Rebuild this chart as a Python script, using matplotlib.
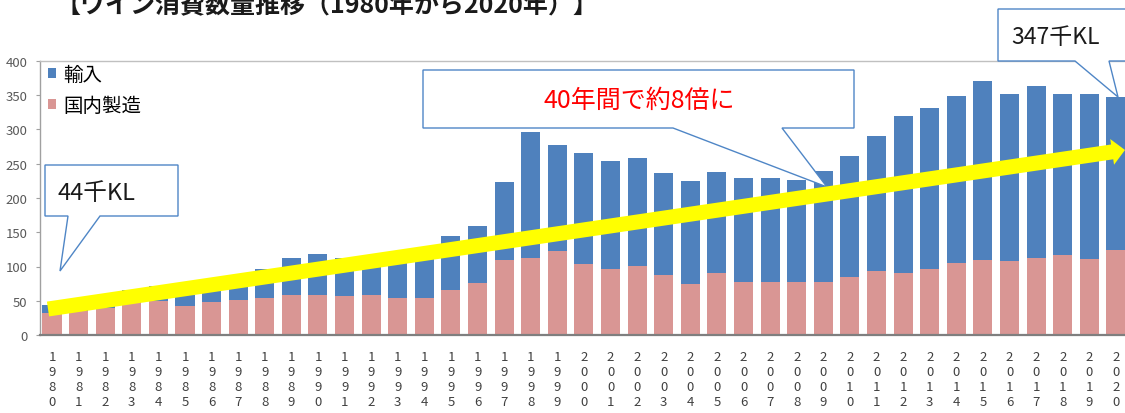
import matplotlib
matplotlib.use("Agg")
import matplotlib.pyplot as plt
from matplotlib.patches import Polygon
import numpy as np

plt.rcParams['font.family'] = ['Noto Sans CJK JP', 'DejaVu Sans']

# ---- data (千KL) ----
years = list(range(1980, 2021))
domestic = [32, 35, 40, 46, 50, 42, 48, 51, 54, 59,
            59, 57, 59, 54, 54, 66, 76, 109, 112, 122,
            104, 96, 101, 88, 74, 91, 78, 77, 78, 78,
            84, 93, 91, 97, 105, 109, 108, 113, 117, 111,
            124]
imports = [12, 12, 18, 19, 21, 16, 17, 25, 42, 54,
           59, 55, 48, 54, 64, 78, 83, 115, 185, 156,
           161, 158, 157, 149, 151, 147, 151, 152, 148, 162,
           178, 197, 229, 235, 244, 262, 244, 251, 235, 241,
           223]
label_import = '輸入'
label_domestic = '国内製造'
title = '【ワイン消費数量推移（1980年から2020年）】'
note_start = '44千KL'
note_end = '347千KL'
note_growth = '40年間で約8倍に'
yticks = [0, 50, 100, 150, 200, 250, 300, 350, 400]

W, H = 1125, 414
fig = plt.figure(figsize=(W / 100, H / 100), dpi=100)


def fx(x):
    return x / W


def fy(y):
    return 1 - y / H


ax = fig.add_axes([fx(40), fy(336), 1 - fx(40), fy(62) - fy(336)])

x = np.arange(len(years))
bw = 0.715
ax.bar(x, domestic, width=bw, color='#d99694', label=label_domestic, zorder=2)
ax.bar(x, imports, width=bw, bottom=domestic, color='#4f81bd', label=label_import, zorder=2)

ax.set_xlim(-0.451, 40.34)
ax.set_ylim(0, 400)
ax.set_yticks(yticks)
ax.set_yticklabels([str(v) for v in yticks])
ax.set_xticks(x)
ax.set_xticklabels(['\n'.join(str(y)) for y in years], linespacing=1.2, va='top')

ax.tick_params(axis='y', direction='out', length=3, width=0.8, color='#a0a0a0',
               labelsize=9.5, labelcolor='#595959', pad=6)
ax.tick_params(axis='x', length=0, labelsize=9.5, labelcolor='#404040', pad=11)

ax.spines['right'].set_visible(False)
ax.spines['top'].set_color('#c0c0c0')
ax.spines['top'].set_linewidth(1.0)
ax.spines['left'].set_color('#a0a0a0')
ax.spines['left'].set_linewidth(1.0)
ax.spines['bottom'].set_color('#7f7f7f')
ax.spines['bottom'].set_linewidth(1.6)

h, l = ax.get_legend_handles_labels()
leg = ax.legend(h[::-1], l[::-1], loc='upper left', bbox_to_anchor=(0.005, 1.0),
                frameon=False, fontsize=14, handlelength=0.4, handleheight=0.4,
                handletextpad=0.35, labelspacing=0.5, borderaxespad=0.0,
                borderpad=0.15)

# title (cropped at the top in the reference)
fig.text(fx(55), fy(13), title, fontsize=18, fontweight='bold', ha='left',
         va='baseline', color='#1a1a1a')


def callout(pts, z=5):
    poly = Polygon([(fx(a), fy(b)) for a, b in pts], closed=True,
                   transform=fig.transFigure, facecolor='white',
                   edgecolor='#4f86c6', linewidth=1.0, zorder=z)
    fig.add_artist(poly)


# 44千KL callout
callout([(45, 166), (178, 166), (178, 217), (100, 217), (60, 272), (68, 217), (45, 217)])
fig.text(fx(57), fy(193), note_start, fontsize=17, ha='left', va='center',
         color='#1a1a1a', zorder=6)

# 40年間 callout
callout([(423, 71), (854, 71), (854, 129), (782, 129), (827, 188), (673, 129), (423, 129)])
fig.text(fx(639), fy(101), note_growth, fontsize=18, ha='center', va='center',
         color='#ff0000', zorder=6)

# 347千KL callout
callout([(998, 10), (1140, 10), (1140, 62), (1109, 62), (1118, 98), (1075, 62), (998, 62)])
fig.text(fx(1011), fy(37), note_end, fontsize=16.5, ha='left', va='center',
         color='#1a1a1a', zorder=6)

# yellow trend arrow
S = np.array([48.0, 310.0])
T = np.array([1125.0, 151.0])
d = (T - S) / np.linalg.norm(T - S)
n = np.array([-d[1], d[0]])
hw, headw, headl = 7.5, 13.0, 13.0
Hb = T - d * headl
arrow_pts = [S + n * hw, Hb + n * hw, Hb + n * headw, T, Hb - n * headw, Hb - n * hw, S - n * hw]
arrow = Polygon([(fx(p[0]), fy(p[1])) for p in arrow_pts], closed=True,
                transform=fig.transFigure, facecolor='#ffff00', edgecolor='none', zorder=7)
fig.add_artist(arrow)

fig.savefig('out.png', dpi=100)
